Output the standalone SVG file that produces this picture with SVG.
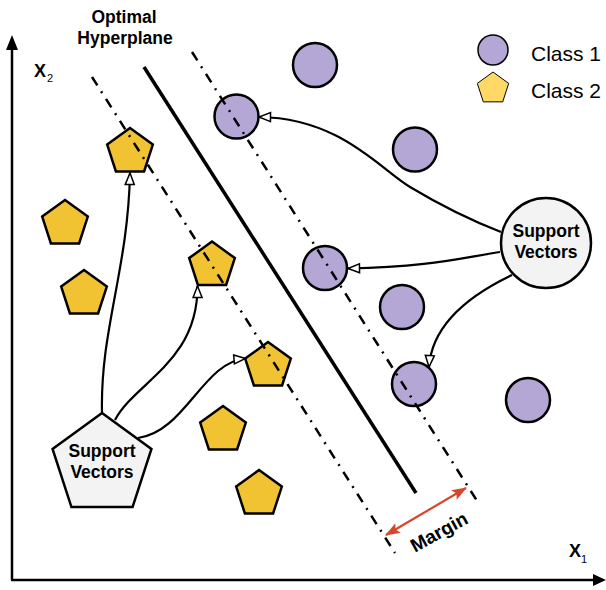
<svg xmlns="http://www.w3.org/2000/svg" width="606" height="590" viewBox="0 0 606 590">
<style>
.c1{fill:#b4a7d6;stroke:#000;stroke-width:2.5}
.c2{fill:#f1c232;stroke:#000;stroke-width:2.5;stroke-linejoin:miter}
.sv{fill:#f3f3f3;stroke:#000;stroke-width:2.5}
.lbl{font-family:"Liberation Sans",Arial,sans-serif;font-weight:bold;font-size:17.5px;fill:#000}
.leg{font-family:"Liberation Sans",Arial,sans-serif;font-size:21px;fill:#000}
.conn{fill:none;stroke:#000;stroke-width:2.2;marker-end:url(#open)}
.dd{stroke:#000;stroke-width:2.5;stroke-dasharray:10 7 2 7;fill:none}
.axis{stroke:#000;stroke-width:2.5;fill:none}
</style>
<defs>
<marker id="open" markerUnits="userSpaceOnUse" markerWidth="14" markerHeight="12" refX="12" refY="5" orient="auto" overflow="visible">
<path d="M0.5,0.5 L12,5 L0.5,9.5 z" fill="#fff" stroke="#000" stroke-width="1.5"/>
</marker>
<marker id="red" markerUnits="userSpaceOnUse" markerWidth="16" markerHeight="12" refX="14" refY="5.5" orient="auto-start-reverse" overflow="visible">
<path d="M0,0 L15,5.5 L0,11 L3,5.5 z" fill="#d5472b"/>
</marker>
<polygon id="pent" points="0,-24 22.82,-7.42 14.11,19.42 -14.11,19.42 -22.82,-7.42"/>
</defs>
<rect width="606" height="590" fill="#fff"/>
<g id="axes">
<line class="axis" x1="12" y1="580" x2="12" y2="48"/>
<polygon points="12,35 6,50 18,50" fill="#000"/>
<line class="axis" x1="11" y1="580" x2="594" y2="580"/>
<polygon points="606,580 593,574 593,586" fill="#000"/>
<text class="lbl" x="34" y="77" style="font-size:18px">X</text>
<text class="lbl" x="47" y="82" style="font-size:11px;font-weight:normal">2</text>
<text class="lbl" x="569" y="557" style="font-size:18px">X</text>
<text class="lbl" x="581" y="563" style="font-size:11px;font-weight:normal">1</text>
</g>
<g id="legend">
<circle cx="493" cy="50" r="15" fill="#b4a7d6" stroke="#000" stroke-width="1.5"/>
<polygon transform="translate(493,88.5)" points="0,-16.5 15.69,-5.1 9.7,13.35 -9.7,13.35 -15.69,-5.1" fill="#ffd966" stroke="#000" stroke-width="1"/>
<text class="leg" x="531" y="60.5">Class 1</text>
<text class="leg" x="531" y="97.5">Class 2</text>
</g>
<g id="class1">
<circle id="c1a" class="c1" cx="315" cy="65" r="22"/>
<circle id="c1b" class="c1" cx="236.5" cy="116.5" r="22"/>
<circle id="c1c" class="c1" cx="415" cy="149.5" r="22"/>
<circle id="c1d" class="c1" cx="325" cy="268" r="22"/>
<circle id="c1e" class="c1" cx="402" cy="307" r="22"/>
<circle id="c1f" class="c1" cx="414" cy="384" r="22"/>
<circle id="c1g" class="c1" cx="528" cy="400" r="22"/>
</g>
<g id="class2">
<use id="c2a" href="#pent" class="c2" transform="translate(130,152)"/>
<use id="c2b" href="#pent" class="c2" transform="translate(65,224)"/>
<use id="c2c" href="#pent" class="c2" transform="translate(84,294)"/>
<use id="c2d" href="#pent" class="c2" transform="translate(212,265.5)"/>
<use id="c2e" href="#pent" class="c2" transform="translate(268,366)"/>
<use id="c2f" href="#pent" class="c2" transform="translate(223,430)"/>
<use id="c2g" href="#pent" class="c2" transform="translate(259,494)"/>
</g>
<g id="hyperplane">
<line x1="144" y1="67" x2="416" y2="493" stroke="#000" stroke-width="3.5"/>
<line class="dd" x1="92" y1="77" x2="395" y2="553"/>
<line class="dd" x1="192" y1="52" x2="479" y2="504"/>
<text class="lbl" x="124" y="23" text-anchor="middle">Optimal</text>
<text class="lbl" x="125" y="44" text-anchor="middle">Hyperplane</text>
</g>
<g id="connectors">
<path class="conn" d="M102,413 C100,330 128,270 130,173"/>
<path class="conn" d="M115,420 C135,382 198,362 197.5,286"/>
<path class="conn" d="M138,438 C185,432 203,362 245.5,358.5"/>
<path class="conn" d="M501,232 C470,220 440,205 410,187 S340,118 259,117"/>
<path class="conn" d="M500,252 C460,258 430,267 348,268.5"/>
<path class="conn" d="M512,275 C470,295 432,325 429,367"/>
</g>
<g id="sv-circle">
<circle class="sv" cx="546" cy="243" r="45"/>
<text class="lbl" x="546" y="237" text-anchor="middle">Support</text>
<text class="lbl" x="546" y="258" text-anchor="middle">Vectors</text>
</g>
<g id="sv-pentagon">
<polygon class="sv" transform="translate(102,465)" points="0,-52 49.45,-16.07 30.56,42.07 -30.56,42.07 -49.45,-16.07"/>
<text class="lbl" x="102" y="457" text-anchor="middle">Support</text>
<text class="lbl" x="102" y="478" text-anchor="middle">Vectors</text>
</g>
<g id="margin">
<line x1="386" y1="535" x2="466" y2="488" stroke="#d5472b" stroke-width="2.2" marker-start="url(#red)" marker-end="url(#red)"/>
<text class="lbl" transform="translate(439,532) rotate(-29)" x="0" y="6.5" text-anchor="middle" style="font-size:19px">Margin</text>
</g>
</svg>
